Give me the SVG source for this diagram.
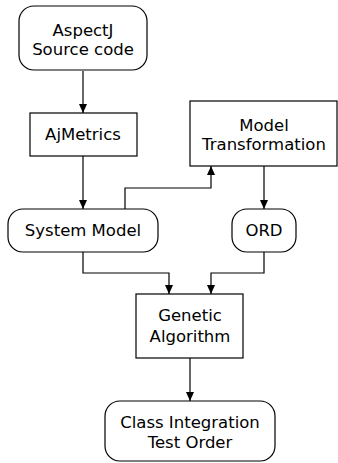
<svg xmlns="http://www.w3.org/2000/svg" width="338" height="463" viewBox="0 0 338 463">
<defs>
<marker id="ah" markerWidth="10" markerHeight="10" refX="9" refY="4" orient="auto" markerUnits="userSpaceOnUse">
<path d="M0,0 L9,4 L0,8 Z" fill="#000"/>
</marker>
<style>
.n{fill:#fff;stroke:#000;stroke-width:1.2}
.t{font-family:"DejaVu Sans",sans-serif;font-size:16.5px;text-anchor:middle;fill:#000}
.c{fill:none;stroke:#000;stroke-width:1.2;marker-end:url(#ah)}
</style>
</defs>
<rect width="338" height="463" fill="#fff"/>
<g id="connectors">
<path class="c" d="M83,71 V113"/>
<path class="c" d="M83,156 V209"/>
<path class="c" d="M125,209 V188 H211 V166"/>
<path class="c" d="M264,166 V209"/>
<path class="c" d="M83,252 V273 H169 V294"/>
<path class="c" d="M264,252 V273 H211 V294"/>
<path class="c" d="M190,358 V401"/>
</g>
<g id="aspectj">
<rect class="n" x="19" y="6" width="128" height="64" rx="15"/>
<text class="t" x="83" y="36">AspectJ</text>
<text class="t" x="83" y="55">Source code</text>
</g>
<g id="ajmetrics">
<rect class="n" x="30" y="113" width="107" height="43"/>
<text class="t" x="83" y="140">AjMetrics</text>
</g>
<g id="modeltransformation">
<rect class="n" x="190" y="101" width="147" height="65"/>
<text class="t" x="264" y="131">Model</text>
<text class="t" x="264" y="150">Transformation</text>
</g>
<g id="systemmodel">
<rect class="n" x="8" y="209" width="150" height="43" rx="15"/>
<text class="t" x="83" y="236">System Model</text>
</g>
<g id="ord">
<rect class="n" x="232" y="209" width="64" height="43" rx="15"/>
<text class="t" x="264" y="236">ORD</text>
</g>
<g id="genetic">
<rect class="n" x="136" y="294" width="107" height="64"/>
<text class="t" x="190" y="321">Genetic</text>
<text class="t" x="190" y="342">Algorithm</text>
</g>
<g id="classorder">
<rect class="n" x="105" y="401" width="170" height="60" rx="15"/>
<text class="t" x="190" y="428">Class Integration</text>
<text class="t" x="190" y="448">Test Order</text>
</g>
</svg>
